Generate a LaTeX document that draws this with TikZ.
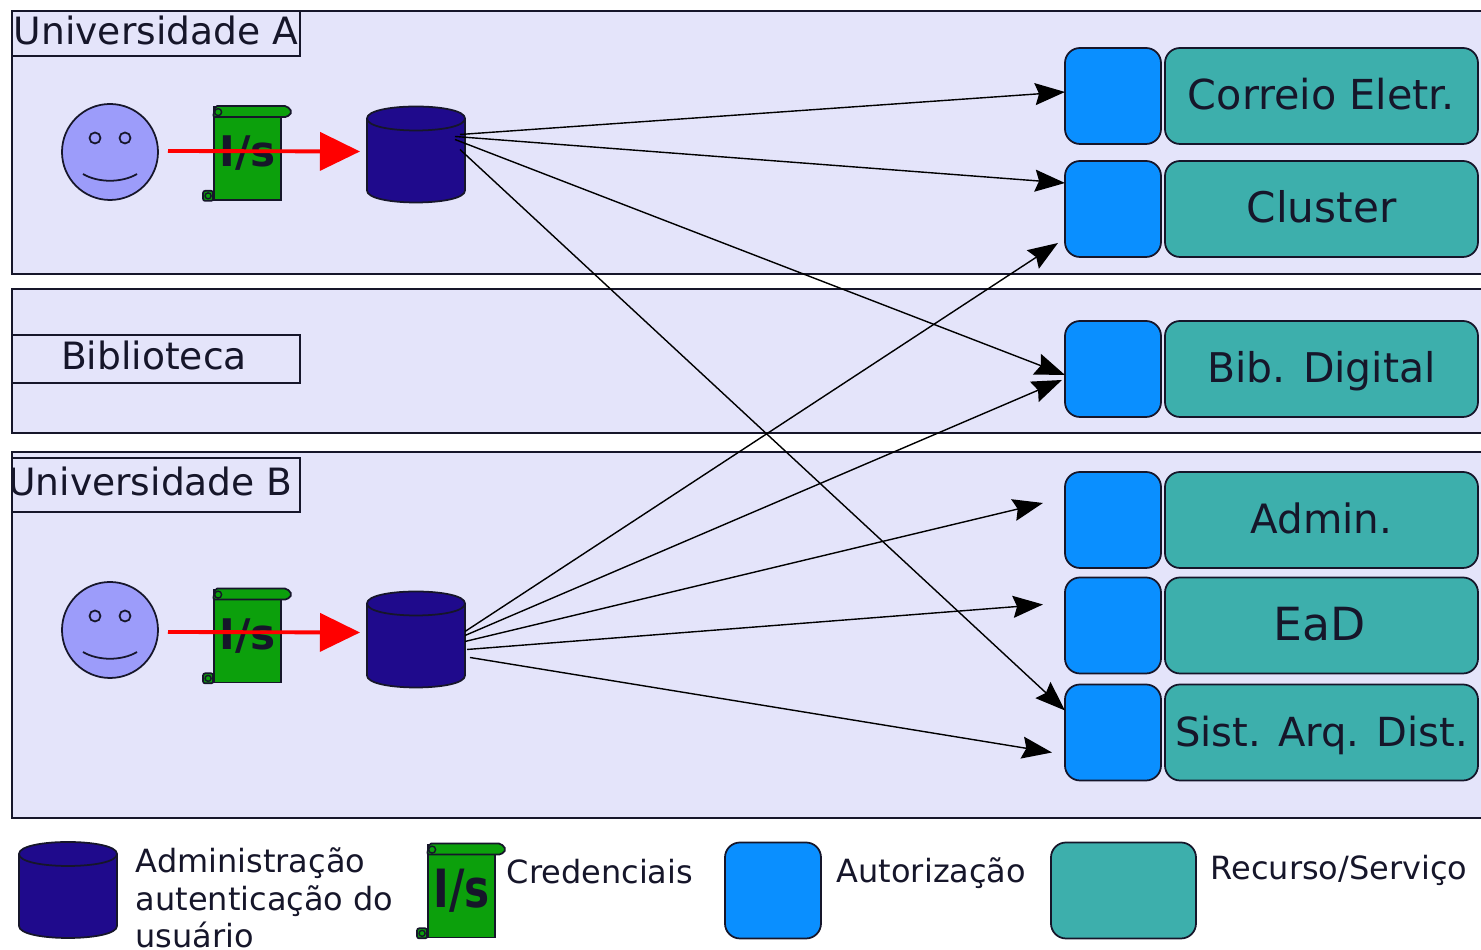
\documentclass[tikz,border=0pt]{standalone}
\usepackage{fontspec}
\setmainfont{DejaVu Sans}
\usepackage{xcolor}
\usepackage{tikz}
\usetikzlibrary{calc}
\usetikzlibrary{arrows.meta}
\definecolor{Cpanel}{HTML}{E4E4FA}
\definecolor{Cauth}{HTML}{0A8FFF}
\definecolor{Cres}{HTML}{3DAFAC}
\definecolor{Cdb}{HTML}{1F0A8C}
\definecolor{Cface}{HTML}{9C9CFA}
\definecolor{Ccred}{HTML}{0CA00C}
\definecolor{Cline}{HTML}{16162A}
% eyes and mouth on a face node
\newcommand{\facemarks}[1]{
\draw[Cline,fill=Cface,line width=0.5pt] ($(#1.center)+(-15,-14)$) circle (0.055cm);
\draw[Cline,fill=Cface,line width=0.5pt] ($(#1.center)+(15,-14)$) circle (0.055cm);
\draw[Cline,line width=0.5pt] ($(#1.center)+(-27,22)$) .. controls ($(#1.center)+(-12,31)$) and ($(#1.center)+(12,31)$) .. ($(#1.center)+(27,22)$);
}
% rolled ends of a scroll node
\newcommand{\scrollends}[1]{
\draw[Cline,fill=Ccred,line width=0.5pt,rounded corners=0.02cm] ($(#1.north west)+(2,0)$) -- ($(#1.north west)+(74,0)$) -- ($(#1.north west)+(79,6)$) -- ($(#1.north west)+(74,11)$) -- ($(#1.north west)+(0,11)$) -- cycle;
\draw[Cline,line width=0.4pt] ($(#1.north west)+(5,6)$) circle (0.035cm);
\draw[Cline,fill=Ccred,line width=0.5pt,rounded corners=0.02cm] ($(#1.south west)+(0,-10)$) -- ($(#1.south west)+(-10,-10)$) -- ($(#1.south west)+(-10,0)$) -- ($(#1.south west)+(0,0)$) -- cycle;
\draw[Cline,line width=0.4pt] ($(#1.south west)+(-5,-5)$) circle (0.03cm);
}
% drum drawn over a db node
\newcommand{\drum}[1]{
\draw[Cline,fill=Cdb,line width=0.5pt] ($(#1.center)+(-49,-36)$) .. controls ($(#1.center)+(-49,-52)$) and ($(#1.center)+(49,-52)$) .. ($(#1.center)+(49,-36)$) -- ($(#1.center)+(49,36)$) .. controls ($(#1.center)+(49,52)$) and ($(#1.center)+(-49,52)$) .. ($(#1.center)+(-49,36)$) -- cycle;
\draw[Cline,line width=0.5pt] ($(#1.center)+(-49,-36)$) .. controls ($(#1.center)+(-49,-20)$) and ($(#1.center)+(49,-20)$) .. ($(#1.center)+(49,-36)$);
}
\begin{document}
\begin{tikzpicture}[x=0.1mm,y=-0.1mm]
\tikzstyle{panel}=[draw=Cline,fill=Cpanel,shape=rectangle,line width=0.5pt,inner sep=0pt]
\tikzstyle{tag}=[panel,minimum width=2.88cm,text=Cline,text depth=0.07cm,font=\fontsize{10.7}{12}\selectfont]
\tikzstyle{auth}=[draw=Cline,fill=Cauth,shape=rectangle,rounded corners=0.15cm,line width=0.5pt,minimum width=0.96cm,minimum height=0.96cm,inner sep=0pt]
\tikzstyle{res}=[draw=Cline,fill=Cres,shape=rectangle,rounded corners=0.15cm,line width=0.5pt,minimum width=3.13cm,minimum height=0.96cm,inner sep=0pt,text=Cline,text height=0.33cm,text depth=0.05cm,font=\fontsize{12}{14}\selectfont]
\tikzstyle{face}=[draw=Cline,fill=Cface,shape=circle,line width=0.5pt,minimum size=0.96cm,inner sep=0pt]
\tikzstyle{cred}=[draw=Cline,fill=Ccred,shape=rectangle,line width=0.5pt,minimum width=0.67cm,minimum height=0.93cm,inner sep=0pt,text=Cline,font=\fontsize{12}{14}\selectfont\bfseries]
\tikzstyle{db}=[shape=rectangle,minimum width=0.98cm,minimum height=0.97cm,inner sep=0pt]
\tikzstyle{legend}=[anchor=west,align=left,inner sep=0pt,text=Cline,font=\fontsize{9.1}{10.6}\selectfont]
\tikzstyle{link}=[-{Stealth[length=0.3cm,width=0.22cm,inset=0.04cm]},black,line width=0.4pt]
\tikzstyle{login}=[-{Triangle[length=0.4cm,width=0.38cm]},red,line width=1.1pt]

\useasboundingbox (0,0) rectangle (1481,950);

\node[panel,minimum width=14.88cm,minimum height=2.63cm](uniA) at (756,142.5){};
\node[panel,minimum width=14.88cm,minimum height=1.44cm](bib) at (756,361){};
\node[panel,minimum width=14.88cm,minimum height=3.66cm](uniB) at (756,635){};
%
\node[tag,minimum height=0.45cm](tagA) at (156,33.5){Universidade A};
\node[tag,minimum height=0.48cm](tagbib) at (156,359){\hspace*{-0.04cm}Biblioteca};
\node[tag,minimum height=0.54cm](tagB) at (156,485){\hspace*{-0.11cm}Universidade B};
%
\node[face](faceA) at (110,152){};
\node[cred](credA) at (247.5,153.5){I/s};
\node[db](dbA) at (416,154.5){};
\node[face](faceB) at (110,630){};
\node[cred](credB) at (247.5,636){I/s};
\node[db](dbB) at (416,639.5){};
\facemarks{faceA}
\facemarks{faceB}
\scrollends{credA}
\scrollends{credB}
\drum{dbA}
\drum{dbB}
%
\node[auth](authmail) at (1113,96){};
\node[auth](authcluster) at (1113,209){};
\node[auth](authbib) at (1113,369){};
\node[auth](authadmin) at (1113,520){};
\node[auth](authead) at (1113,625.5){};
\node[auth](authsist) at (1113,732.5){};
\node[res,font=\fontsize{11.75}{14}\selectfont](resmail) at (1321.5,96){Correio Eletr.};
\node[res](rescluster) at (1321.5,209){Cluster};
\node[res,font=\fontsize{11.65}{14}\selectfont](resbib) at (1321.5,369){Bib. Digital};
\node[res,font=\fontsize{11.5}{14}\selectfont](resadmin) at (1321.5,520){Admin.};
\node[res,text depth=0.02cm,font=\fontsize{13}{14}\selectfont](resead) at (1321.5,625.5){\hspace*{-0.03cm}EaD};
\node[res,font=\fontsize{11.4}{14}\selectfont](ressist) at (1321.5,732.5){Sist. Arq. Dist.};
%
\draw[login] ($(faceA.center)+(58,-1)$) -- ($(dbA.center)+(-56,-3)$);
\draw[login] ($(faceB.center)+(58,2)$) -- ($(dbB.center)+(-56,-7)$);
%
\draw[link] ($(dbA.center)+(44,-20)$) -- ($(authmail.center)+(-48,-4)$);
\draw[link] ($(dbA.center)+(39,-18)$) -- ($(authcluster.center)+(-48,-26)$);
\draw[link] ($(dbA.center)+(39,-15)$) -- ($(authbib.center)+(-48,6)$);
\draw[link] ($(dbA.center)+(44,-5)$) -- ($(authsist.center)+(-48,-22)$);
\draw[link] ($(dbB.center)+(49,-8)$) -- ($(authcluster.center)+(-55,34)$);
\draw[link] ($(dbB.center)+(49,-4)$) -- ($(authbib.center)+(-51,11)$);
\draw[link] ($(dbB.center)+(49,2)$) -- ($(authadmin.center)+(-70,-17)$);
\draw[link] ($(dbB.center)+(51,10)$) -- ($(authead.center)+(-70,-21)$);
\draw[link] ($(dbB.center)+(54,18)$) -- ($(authsist.center)+(-61,20)$);
%
\node[db](keydb) at (68,890){};
\drum{keydb}
\node[legend](keydbtext) at (135,898){Administração\\autenticação do\\usuário};
\node[cred](keycred) at (461.5,891){\scalebox{1}[1.25]{I/s}};
\scrollends{keycred}
\node[legend](keycredtext) at (506,872){Credenciais};
\node[auth](keyauth) at (773,890.5){};
\node[legend](keyauthtext) at (836,873){Autorização};
\node[auth,fill=Cres,minimum width=1.45cm](keyres) at (1123.5,890.5){};
\node[legend](keyrestext) at (1210,870){Recurso/Serviço};
\end{tikzpicture}
\end{document}
